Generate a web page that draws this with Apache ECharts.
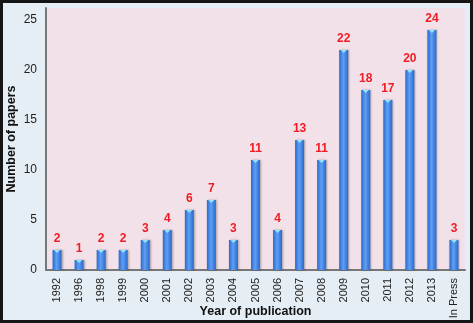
<!DOCTYPE html>
<html>
<head>
<meta charset="utf-8">
<script src="https://cdn.jsdelivr.net/npm/echarts@6/dist/echarts.min.js"></script>
<style>
    html, body { margin: 0; padding: 0; }
    #frame {
        width: 473px; height: 323px; box-sizing: border-box;
        border: 3px solid #151515; background: #e5eef4;
    }
    #chart { width: 467px; height: 317px; }
</style>
</head>
<body>
<div id="frame"><div id="chart"></div></div>
<script>
// 年份 / 论文数量
const years = ['1992', '1996', '1998', '1999', '2000', '2001', '2002', '2003', '2004', '2005',
    '2006', '2007', '2008', '2009', '2010', '2011', '2012', '2013', 'In Press'];
const papers = [2, 1, 2, 2, 3, 4, 6, 7, 3, 11, 4, 13, 11, 22, 18, 17, 20, 24, 3];

const myChart = echarts.init(document.getElementById('chart'));

const barColor = new echarts.graphic.LinearGradient(0, 0, 1, 0, [
    { offset: 0, color: '#2b68cf' },
    { offset: 0.45, color: '#5ea0f2' },
    { offset: 1, color: '#2b68cf' }
]);

const option = {
    animation: false,
    grid: {
        left: 43, right: 5, top: 5, bottom: 50,
        outerBoundsMode: 'none',
        show: true, backgroundColor: '#f2e1e8', borderWidth: 0
    },
    xAxis: {
        type: 'category',
        data: years,
        name: 'Year of publication',
        nameLocation: 'middle',
        nameGap: 35,
        nameMoveOverlap: false,
        nameTextStyle: { fontFamily: 'Liberation Sans', fontWeight: 'bold', fontSize: 12.5, color: '#111' },
        axisLine: { lineStyle: { color: '#777', width: 2 } },
        axisTick: { show: false },
        axisLabel: { rotate: 90, fontFamily: 'Liberation Sans', fontSize: 11, color: '#222', margin: 8, interval: 0 }
    },
    yAxis: {
        type: 'value',
        min: 0, max: 26.2, interval: 5,
        name: 'Number of papers',
        nameLocation: 'middle',
        nameGap: 28,
        nameMoveOverlap: false,
        nameTextStyle: { fontFamily: 'Liberation Sans', fontWeight: 'bold', fontSize: 12.5, color: '#111' },
        axisLine: { show: true, lineStyle: { color: '#777', width: 2 } },
        axisTick: { show: false },
        splitLine: { show: false },
        axisLabel: { showMaxLabel: false, fontFamily: 'Liberation Sans', fontSize: 12, color: '#222', margin: 9 }
    },
    series: [
        {
            type: 'bar',
            data: papers,
            barWidth: 9,
            itemStyle: { color: barColor, shadowColor: 'rgba(0,0,0,0.3)', shadowBlur: 2, shadowOffsetX: 1 },
            label: {
                show: true, position: 'top', distance: 5,
                color: '#ee1c24', fontFamily: 'Liberation Sans', fontWeight: 'bold', fontSize: 12
            }
        },
        {
            // 柱顶的浅色三角高光
            type: 'pictorialBar',
            data: papers,
            symbol: 'triangle',
            symbolRotate: 180,
            symbolSize: [6, 3],
            symbolPosition: 'end',
            symbolOffset: [0, 0],
            barGap: '-100%',
            itemStyle: { color: '#8fe6f6' },
            z: 3
        }
    ]
};

myChart.setOption(option);
</script>
</body>
</html>
